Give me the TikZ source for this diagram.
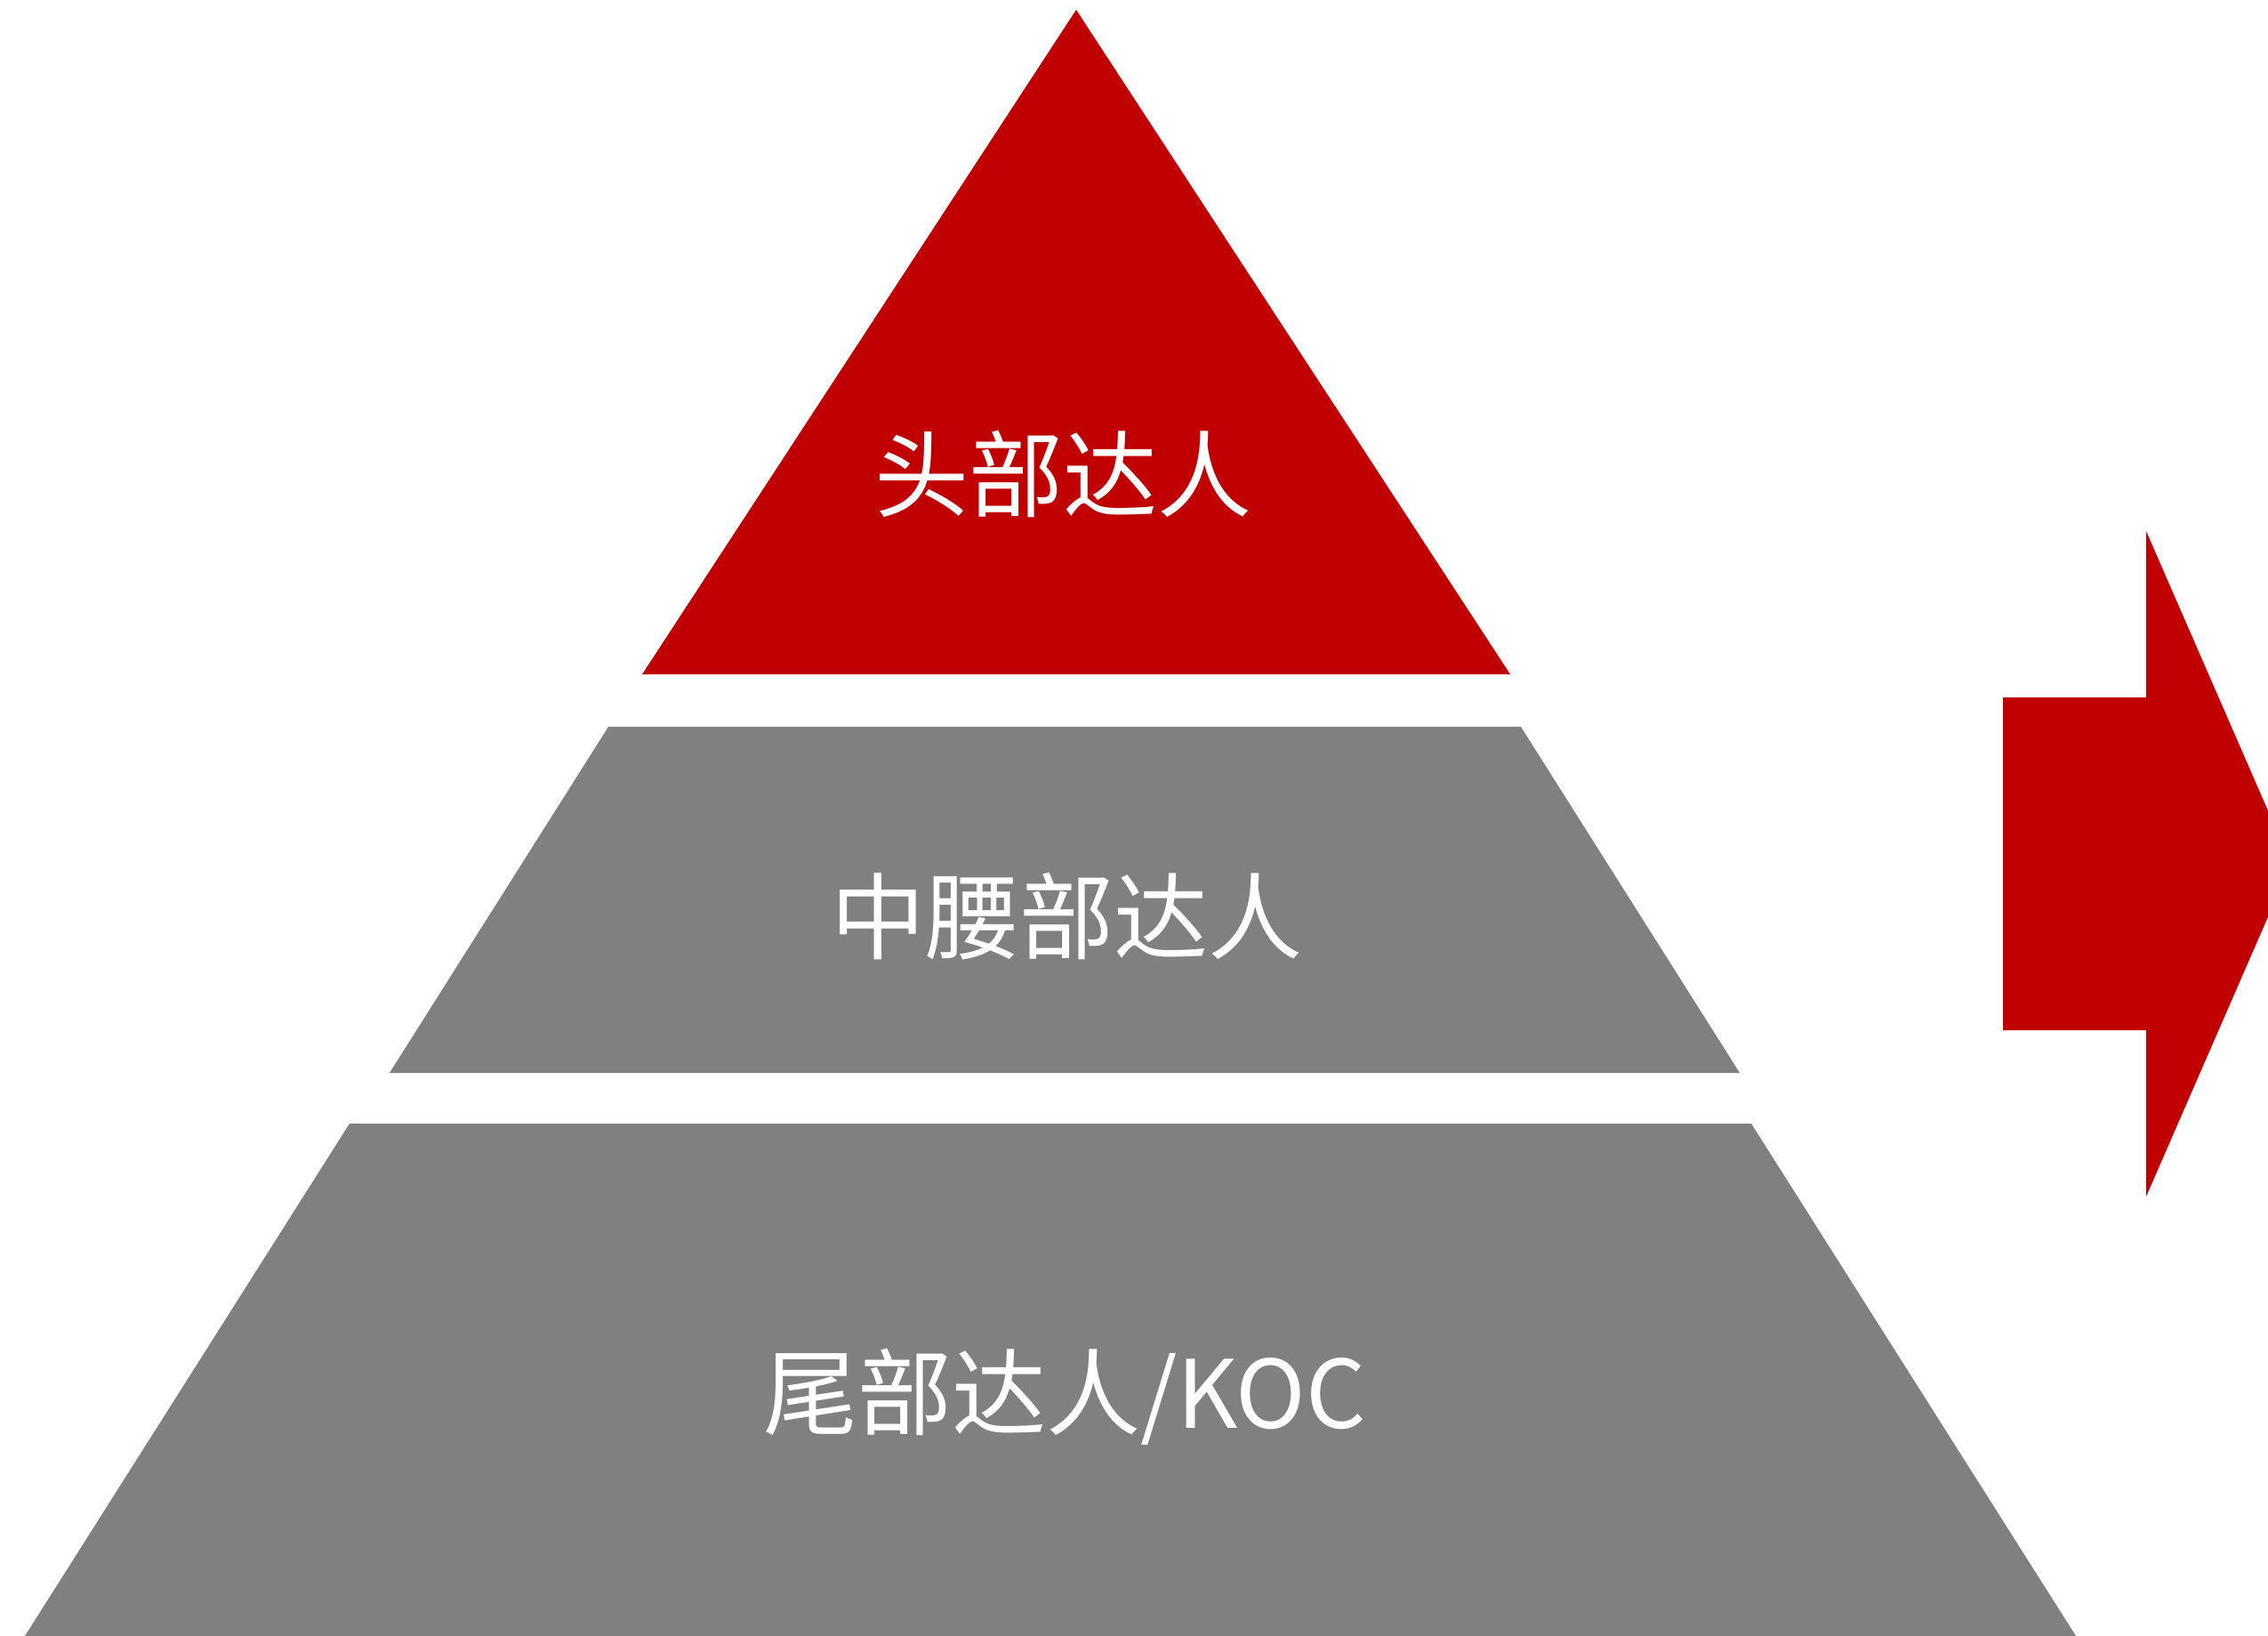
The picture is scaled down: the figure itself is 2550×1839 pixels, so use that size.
\documentclass[tikz,border=0pt]{standalone}
\usepackage{fontspec}
\newfontfamily\cjk{Noto Sans CJK SC}
\definecolor{topred}{HTML}{C00000}
\definecolor{tiergray}{HTML}{808080}
\begin{document}
\begin{tikzpicture}[x=0.5pt,y=-0.5pt,
  tiertext/.style={text=white,font=\cjk\fontsize{53}{62}\selectfont,inner sep=0pt,anchor=center}]
\useasboundingbox (0,0) rectangle (2550,1839);
\begin{scope}
\clip (0,0) rectangle (2550,1839);
% top triangle
\fill[topred] (1210,11) -- (1698,758) -- (722,758) -- cycle;
% middle trapezoid
\fill[tiergray] (684,817) -- (1710,817) -- (1956,1206) -- (438,1206) -- cycle;
% bottom trapezoid
\fill[tiergray] (393,1263) -- (1969,1263) -- (2334,1839) -- (28,1839) -- cycle;
% arrow
\fill[topred] (2252,784) -- (2413,784) -- (2413,597) -- (2576,971) -- (2413,1345) -- (2413,1158) -- (2252,1158) -- cycle;
\end{scope}
\node[tiertext] (head) at (1195,533) {头部达人};
\node[tiertext] (waist) at (1199,1030) {中腰部达人};
\node[tiertext] (tail) at (1197,1570) {尾部达人/KOC};
\end{tikzpicture}
\end{document}
